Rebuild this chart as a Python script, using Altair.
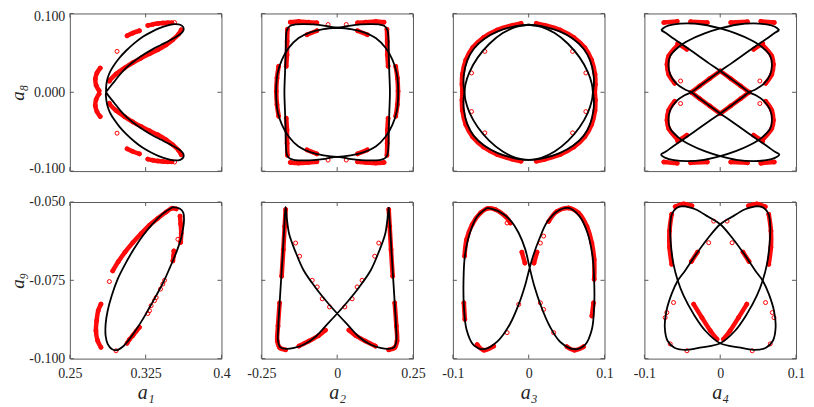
import altair as alt
import pandas as pd

# ---------------- axes: ticks, labels, titles ----------------
X1_TICKS = [0.25, 0.325, 0.4]
X1_LABELS = ["0.25", "0.325", "0.4"]
X2_TICKS = [-0.25, 0.0, 0.25]
X2_LABELS = ["-0.25", "0", "0.25"]
X3_TICKS = [-0.1, 0.0, 0.1]
X3_LABELS = ["-0.1", "0", "0.1"]
X4_TICKS = [-0.1, 0.0, 0.1]
X4_LABELS = ["-0.1", "0", "0.1"]
Y8_TICKS = [-0.1, 0.0, 0.1]
Y8_LABELS = ["-0.100", "0.000", "0.100"]
Y9_TICKS = [-0.1, -0.075, -0.05]
Y9_LABELS = ["-0.100", "-0.075", "-0.050"]
X_TITLES = ["a₁", "a₂", "a₃", "a₄"]
Y_TITLES = ["a₈", "a₉"]

# ---------------- a1 vs a8 ----------------
A1_A8_BLACK = [
    (0.2858, 0.0000), (0.2861, 0.0097), (0.2874, 0.0181), (0.2900, 0.0266), (0.2940, 0.0350),
    (0.2990, 0.0435), (0.3056, 0.0527), (0.3139, 0.0624), (0.3222, 0.0705), (0.3304, 0.0764),
    (0.3387, 0.0814), (0.3470, 0.0848), (0.3536, 0.0865), (0.3592, 0.0857), (0.3622, 0.0827),
    (0.3625, 0.0789), (0.3602, 0.0747), (0.3553, 0.0705), (0.3486, 0.0658), (0.3404, 0.0603),
    (0.3321, 0.0548), (0.3238, 0.0485), (0.3155, 0.0413), (0.3073, 0.0329), (0.3000, 0.0232),
    (0.2934, 0.0126), (0.2881, 0.0042), (0.2858, 0.0000),
    (0.2861, -0.0097), (0.2874, -0.0181), (0.2900, -0.0266), (0.2940, -0.0350),
    (0.2990, -0.0435), (0.3056, -0.0527), (0.3139, -0.0624), (0.3222, -0.0705), (0.3304, -0.0764),
    (0.3387, -0.0814), (0.3470, -0.0848), (0.3536, -0.0865), (0.3592, -0.0857), (0.3622, -0.0827),
    (0.3625, -0.0789), (0.3602, -0.0747), (0.3553, -0.0705), (0.3486, -0.0658), (0.3404, -0.0603),
    (0.3321, -0.0548), (0.3238, -0.0485), (0.3155, -0.0413), (0.3073, -0.0329), (0.3000, -0.0232),
    (0.2934, -0.0126), (0.2881, -0.0042), (0.2858, 0.0000),
]
A1_A8_RED_BANDS = [
    [(0.2891, 0.0148), (0.2957, 0.0232), (0.3040, 0.0308), (0.3122, 0.0375), (0.3205, 0.0434),
     (0.3288, 0.0489), (0.3371, 0.0540), (0.3453, 0.0603), (0.3519, 0.0667), (0.3576, 0.0738), (0.3602, 0.0793)],
    [(0.2891, -0.0148), (0.2957, -0.0232), (0.3040, -0.0308), (0.3122, -0.0375), (0.3205, -0.0434),
     (0.3288, -0.0489), (0.3371, -0.0540), (0.3453, -0.0603), (0.3519, -0.0667), (0.3576, -0.0738), (0.3602, -0.0793)],
    [(0.2801, 0.0308), (0.2768, 0.0245), (0.2752, 0.0170), (0.2760, 0.0090), (0.2790, 0.0020)],
    [(0.2790, -0.0020), (0.2760, -0.0090), (0.2752, -0.0170), (0.2768, -0.0245), (0.2801, -0.0308)],
    [(0.3271, 0.0848), (0.3321, 0.0862), (0.3371, 0.0872), (0.3420, 0.0878), (0.3470, 0.0882), (0.3510, 0.0882)],
    [(0.3271, -0.0848), (0.3321, -0.0862), (0.3371, -0.0872), (0.3420, -0.0878), (0.3470, -0.0882), (0.3510, -0.0882)],
    [(0.3066, 0.0717), (0.3122, 0.0751), (0.3189, 0.0781)],
    [(0.3066, -0.0717), (0.3122, -0.0751), (0.3189, -0.0781)],
]
A1_A8_RED_DOTS = [(0.2967, 0.0519), (0.2967, -0.0519), (0.2891, 0.0139), (0.2891, -0.0139),
                  (0.3536, 0.0885), (0.3536, -0.0885)]

# ---------------- a1 vs a9 ----------------
A1_A9_BLACK = [
    (0.3520, -0.0516), (0.3586, -0.0521), (0.3622, -0.0534), (0.3629, -0.0561), (0.3619, -0.0587),
    (0.3602, -0.0614), (0.3559, -0.0656), (0.3493, -0.0707), (0.3427, -0.0755), (0.3354, -0.0799),
    (0.3288, -0.0837), (0.3222, -0.0874), (0.3155, -0.0908), (0.3089, -0.0938), (0.3023, -0.0962),
    (0.2967, -0.0973), (0.2914, -0.0969), (0.2874, -0.0953), (0.2854, -0.0927), (0.2854, -0.0890),
    (0.2874, -0.0847), (0.2914, -0.0799), (0.2973, -0.0746), (0.3046, -0.0699), (0.3132, -0.0651),
    (0.3222, -0.0608), (0.3321, -0.0569), (0.3420, -0.0537), (0.3520, -0.0516),
]
A1_A9_RED_BANDS = [
    [(0.2924, -0.0720), (0.2980, -0.0690), (0.3046, -0.0660), (0.3122, -0.0630), (0.3205, -0.0601),
     (0.3288, -0.0574), (0.3371, -0.0552), (0.3453, -0.0532), (0.3510, -0.0520), (0.3553, -0.0522)],
    [(0.3590, -0.0545), (0.3596, -0.0570), (0.3602, -0.0600), (0.3596, -0.0629)],
    [(0.3529, -0.0656), (0.3526, -0.0672), (0.3519, -0.0688)],
    [(0.2808, -0.0826), (0.2781, -0.0847), (0.2765, -0.0879), (0.2758, -0.0911), (0.2775, -0.0943), (0.2808, -0.0964)],
    [(0.3189, -0.0900), (0.3155, -0.0913), (0.3122, -0.0927), (0.3089, -0.0939), (0.3066, -0.0951)],
]
A1_A9_RED_DOTS = [(0.2891, -0.0754), (0.3437, -0.0750), (0.3420, -0.0762), (0.3397, -0.0778),
                  (0.3354, -0.0805), (0.3337, -0.0815), (0.3304, -0.0831), (0.3288, -0.0847),
                  (0.3271, -0.0856), (0.2957, -0.0975), (0.3569, -0.0619)]

# ---------------- a2 vs a8 ----------------
A2_A8_RECT = [
    (-0.1689, 0.0688), (-0.1656, 0.0793), (-0.1546, 0.0844), (-0.1382, 0.0861), (-0.1107, 0.0865),
    (-0.0779, 0.0861), (-0.0395, 0.0844), (0.0000, 0.0819), (0.0395, 0.0844), (0.0779, 0.0861),
    (0.1107, 0.0865), (0.1382, 0.0861), (0.1546, 0.0844), (0.1656, 0.0793), (0.1689, 0.0688),
    (0.1700, 0.0477), (0.1720, 0.0245), (0.1740, 0.0000), (0.1720, -0.0245), (0.1700, -0.0477),
    (0.1689, -0.0688), (0.1656, -0.0793), (0.1546, -0.0844), (0.1382, -0.0861), (0.1107, -0.0865),
    (0.0779, -0.0861), (0.0395, -0.0844), (0.0000, -0.0819), (-0.0395, -0.0844), (-0.0779, -0.0861),
    (-0.1107, -0.0865), (-0.1382, -0.0861), (-0.1546, -0.0844), (-0.1656, -0.0793), (-0.1689, -0.0688),
    (-0.1700, -0.0477), (-0.1720, -0.0245), (-0.1740, 0.0000), (-0.1720, 0.0245), (-0.1700, 0.0477),
    (-0.1689, 0.0688),
]
A2_A8_OVAL = [
    (0.0000, 0.0819), (-0.0450, 0.0802), (-0.0888, 0.0760), (-0.1272, 0.0688), (-0.1601, 0.0561),
    (-0.1820, 0.0414), (-0.1963, 0.0245), (-0.2007, 0.0097), (-0.2007, -0.0097), (-0.1963, -0.0245),
    (-0.1820, -0.0414), (-0.1601, -0.0561), (-0.1272, -0.0688), (-0.0888, -0.0760), (-0.0450, -0.0802),
    (0.0000, -0.0819), (0.0450, -0.0802), (0.0888, -0.0760), (0.1272, -0.0688), (0.1601, -0.0561),
    (0.1820, -0.0414), (0.1963, -0.0245), (0.2007, -0.0097), (0.2007, 0.0097), (0.1963, 0.0245),
    (0.1820, 0.0414), (0.1601, 0.0561), (0.1272, 0.0688), (0.0888, 0.0760), (0.0450, 0.0802),
    (0.0000, 0.0819),
]
A2_A8_RED_BANDS = [
    [(-0.1640, 0.0800), (-0.1650, 0.0646), (-0.1655, 0.0477), (-0.1680, 0.0329)],
    [(-0.1930, 0.0329), (-0.1985, 0.0181), (-0.2007, 0.0013), (-0.1985, -0.0156), (-0.1930, -0.0304)],
    [(-0.1680, -0.0329), (-0.1655, -0.0477), (-0.1650, -0.0646), (-0.1640, -0.0800)],
    [(0.1640, 0.0800), (0.1650, 0.0646), (0.1655, 0.0477), (0.1680, 0.0329)],
    [(0.1930, 0.0329), (0.1985, 0.0181), (0.2007, 0.0013), (0.1985, -0.0156), (0.1930, -0.0304)],
    [(0.1680, -0.0329), (0.1655, -0.0477), (0.1650, -0.0646), (0.1640, -0.0800)],
    [(-0.1546, 0.0890), (-0.1272, 0.0899), (-0.0943, 0.0890), (-0.0669, 0.0882)],
    [(0.0669, 0.0882), (0.0943, 0.0890), (0.1272, 0.0899), (0.1546, 0.0890)],
    [(-0.1546, -0.0890), (-0.1272, -0.0899), (-0.0943, -0.0890), (-0.0669, -0.0882)],
    [(0.0669, -0.0882), (0.0943, -0.0890), (0.1272, -0.0899), (0.1546, -0.0890)],
    [(-0.0998, 0.0730), (-0.0669, 0.0781)],
    [(0.0669, 0.0781), (0.0998, 0.0730)],
    [(-0.0998, -0.0730), (-0.0669, -0.0781)],
    [(0.0669, -0.0781), (0.0998, -0.0730)],
]
A2_A8_RED_DOTS = [(-0.0300, 0.0860), (0.0300, 0.0860), (-0.0300, -0.0860), (0.0300, -0.0860)]

# ---------------- a2 vs a9 ----------------
A2_A9_BLACK = [
    (0.1700, -0.0516), (0.1743, -0.0578), (0.1787, -0.0652), (0.1842, -0.0737), (0.1897, -0.0822),
    (0.1941, -0.0896), (0.1952, -0.0944), (0.1886, -0.0963), (0.1700, -0.0969), (0.1425, -0.0966),
    (0.1097, -0.0955), (0.0713, -0.0930), (0.0384, -0.0896), (0.0000, -0.0856), (-0.0362, -0.0816),
    (-0.0724, -0.0772), (-0.1107, -0.0718), (-0.1382, -0.0657), (-0.1579, -0.0604), (-0.1656, -0.0556),
    (-0.1700, -0.0516), (-0.1743, -0.0578), (-0.1787, -0.0652), (-0.1842, -0.0737), (-0.1897, -0.0822),
    (-0.1941, -0.0896), (-0.1952, -0.0944), (-0.1886, -0.0963), (-0.1700, -0.0969), (-0.1425, -0.0966),
    (-0.1097, -0.0955), (-0.0713, -0.0930), (-0.0384, -0.0896), (0.0000, -0.0856), (0.0362, -0.0816),
    (0.0724, -0.0772), (0.1107, -0.0718), (0.1382, -0.0657), (0.1579, -0.0604), (0.1656, -0.0556),
    (0.1700, -0.0516),
]
A2_A9_RED_BANDS = [
    [(-0.1700, -0.0524), (-0.1732, -0.0578), (-0.1776, -0.0652), (-0.1831, -0.0737)],
    [(-0.1897, -0.0822), (-0.1952, -0.0896), (-0.1974, -0.0944), (-0.1897, -0.0965), (-0.1700, -0.0972)],
    [(0.1700, -0.0524), (0.1732, -0.0578), (0.1776, -0.0652), (0.1831, -0.0737)],
    [(0.1897, -0.0822), (0.1952, -0.0896), (0.1974, -0.0944), (0.1897, -0.0965), (0.1700, -0.0972)],
    [(-0.1261, -0.0960), (-0.0932, -0.0944), (-0.0603, -0.0926), (-0.0384, -0.0909)],
    [(0.1261, -0.0960), (0.0932, -0.0944), (0.0603, -0.0926), (0.0384, -0.0909)],
]
A2_A9_RED_DOTS = [(-0.1371, -0.0631), (-0.1239, -0.0673), (-0.0822, -0.0750), (-0.0658, -0.0771),
                  (-0.0493, -0.0809), (-0.0252, -0.0835), (0.1371, -0.0631), (0.1239, -0.0673),
                  (0.0822, -0.0750), (0.0658, -0.0771), (0.0493, -0.0809), (0.0252, -0.0835)]

# ---------------- a3 vs a8 ----------------
A3_A8_LOOP1 = [
    (0.0000, 0.0857), (0.0211, 0.0831), (0.0408, 0.0772), (0.0583, 0.0679), (0.0724, 0.0553),
    (0.0811, 0.0401), (0.0855, 0.0224), (0.0860, 0.0097), (0.0847, 0.0000),
    (0.0833, -0.0105), (0.0781, -0.0257), (0.0671, -0.0443), (0.0518, -0.0616), (0.0342, -0.0751),
    (0.0167, -0.0831), (0.0000, -0.0857),
    (-0.0211, -0.0831), (-0.0408, -0.0772), (-0.0583, -0.0679), (-0.0724, -0.0553), (-0.0811, -0.0401),
    (-0.0855, -0.0224), (-0.0860, -0.0097), (-0.0847, 0.0000),
    (-0.0833, 0.0105), (-0.0781, 0.0257), (-0.0671, 0.0443), (-0.0518, 0.0616), (-0.0342, 0.0751),
    (-0.0167, 0.0831), (0.0000, 0.0857),
]
A3_A8_LOOP2 = [
    (0.0000, 0.0857), (0.0167, 0.0831), (0.0342, 0.0751), (0.0518, 0.0616), (0.0671, 0.0443),
    (0.0781, 0.0257), (0.0833, 0.0105), (0.0847, 0.0000),
    (0.0860, -0.0097), (0.0855, -0.0224), (0.0811, -0.0401), (0.0724, -0.0553), (0.0583, -0.0679),
    (0.0408, -0.0772), (0.0211, -0.0831), (0.0000, -0.0857),
    (-0.0167, -0.0831), (-0.0342, -0.0751), (-0.0518, -0.0616), (-0.0671, -0.0443), (-0.0781, -0.0257),
    (-0.0833, -0.0105), (-0.0847, 0.0000),
    (-0.0860, 0.0097), (-0.0855, 0.0224), (-0.0811, 0.0401), (-0.0724, 0.0553), (-0.0583, 0.0679),
    (-0.0408, 0.0772), (-0.0211, 0.0831), (0.0000, 0.0857),
]
A3_A8_RED_BANDS = [
    [(0.0100, 0.0875), (0.0215, 0.0850), (0.0418, 0.0790), (0.0597, 0.0695), (0.0740, 0.0566),
     (0.0830, 0.0410), (0.0875, 0.0229), (0.0880, 0.0099), (0.0870, -0.0020)],
    [(-0.0100, 0.0875), (-0.0215, 0.0850), (-0.0418, 0.0790), (-0.0597, 0.0695), (-0.0740, 0.0566),
     (-0.0830, 0.0410), (-0.0875, 0.0229), (-0.0880, 0.0099), (-0.0870, -0.0020)],
    [(0.0100, -0.0875), (0.0215, -0.0850), (0.0418, -0.0790), (0.0597, -0.0695), (0.0740, -0.0566),
     (0.0830, -0.0410), (0.0875, -0.0229), (0.0880, -0.0099), (0.0870, 0.0020)],
    [(-0.0100, -0.0875), (-0.0215, -0.0850), (-0.0418, -0.0790), (-0.0597, -0.0695), (-0.0740, -0.0566),
     (-0.0830, -0.0410), (-0.0875, -0.0229), (-0.0880, -0.0099), (-0.0870, 0.0020)],
]
A3_A8_RED_DOTS = [(-0.0579, 0.0519), (0.0579, 0.0519), (-0.0579, -0.0515), (0.0579, -0.0515),
                  (-0.0754, 0.0245), (0.0754, 0.0245), (-0.0754, -0.0245), (0.0754, -0.0245)]

# ---------------- a3 vs a9 ----------------
A3_A9_BLACK = [
    (-0.0548, -0.0519), (-0.0395, -0.0530), (-0.0250, -0.0556), (-0.0132, -0.0599), (-0.0044, -0.0652),
    (0.0013, -0.0710), (0.0075, -0.0769), (0.0162, -0.0832), (0.0276, -0.0896), (0.0417, -0.0947),
    (0.0601, -0.0970), (0.0746, -0.0955), (0.0833, -0.0907), (0.0864, -0.0832), (0.0864, -0.0753),
    (0.0842, -0.0673), (0.0776, -0.0599), (0.0671, -0.0546), (0.0526, -0.0519), (0.0373, -0.0530),
    (0.0241, -0.0565), (0.0145, -0.0615), (0.0057, -0.0673), (0.0013, -0.0710), (-0.0044, -0.0763),
    (-0.0132, -0.0827), (-0.0250, -0.0891), (-0.0408, -0.0944), (-0.0592, -0.0970), (-0.0732, -0.0955),
    (-0.0820, -0.0907), (-0.0855, -0.0832), (-0.0860, -0.0753), (-0.0842, -0.0673), (-0.0776, -0.0599),
    (-0.0680, -0.0546), (-0.0548, -0.0519),
]
A3_A9_RED_BANDS = [
    [(-0.0846, -0.0673), (-0.0820, -0.0620), (-0.0746, -0.0572), (-0.0636, -0.0535), (-0.0548, -0.0521),
     (-0.0439, -0.0524), (-0.0307, -0.0546), (-0.0241, -0.0567)],
    [(-0.0855, -0.0822), (-0.0842, -0.0875)],
    [(-0.0680, -0.0955), (-0.0592, -0.0973), (-0.0461, -0.0960)],
    [(0.0263, -0.0562), (0.0373, -0.0530), (0.0526, -0.0519), (0.0658, -0.0535), (0.0768, -0.0578),
     (0.0833, -0.0631), (0.0864, -0.0684), (0.0864, -0.0747)],
    [(0.0855, -0.0822), (0.0833, -0.0864)],
    [(0.0504, -0.0962), (0.0601, -0.0973), (0.0724, -0.0962)],
    [(-0.0090, -0.0660), (-0.0050, -0.0695)],
    [(0.0110, -0.0660), (0.0070, -0.0695)],
]
A3_A9_RED_DOTS = [(-0.0285, -0.0567), (0.0197, -0.0609), (0.0154, -0.0631), (-0.0132, -0.0827),
                  (0.0154, -0.0822), (0.0197, -0.0843), (-0.0285, -0.0917), (0.0329, -0.0917)]

# ---------------- a4 vs a8 ----------------
A4_A8_LOOP1 = [
    (-0.0779, 0.0789), (-0.0722, 0.0832), (-0.0611, 0.0861), (-0.0435, 0.0874), (-0.0214, 0.0857),
    (0.0000, 0.0810), (0.0205, 0.0747), (0.0404, 0.0663), (0.0545, 0.0578), (0.0660, 0.0460),
    (0.0682, 0.0354), (0.0660, 0.0228), (0.0581, 0.0114), (0.0470, 0.0038), (0.0382, 0.0000),
    (0.0271, -0.0080), (0.0139, -0.0173), (0.0000, -0.0270), (-0.0148, -0.0367), (-0.0302, -0.0473),
    (-0.0457, -0.0578), (-0.0611, -0.0679), (-0.0722, -0.0755), (-0.0779, -0.0789), (-0.0722, -0.0832),
    (-0.0611, -0.0861), (-0.0435, -0.0874), (-0.0214, -0.0857), (0.0000, -0.0810), (0.0205, -0.0747),
    (0.0404, -0.0663), (0.0545, -0.0578), (0.0660, -0.0460), (0.0682, -0.0354), (0.0660, -0.0228),
    (0.0581, -0.0114), (0.0470, -0.0038), (0.0382, 0.0000), (0.0271, 0.0080), (0.0139, 0.0173),
    (0.0000, 0.0270), (-0.0148, 0.0367), (-0.0302, 0.0473), (-0.0457, 0.0578), (-0.0611, 0.0679),
    (-0.0722, 0.0755), (-0.0779, 0.0789),
]
A4_A8_LOOP2 = [
    (0.0779, 0.0789), (0.0722, 0.0832), (0.0611, 0.0861), (0.0435, 0.0874), (0.0214, 0.0857),
    (0.0000, 0.0810), (-0.0205, 0.0747), (-0.0404, 0.0663), (-0.0545, 0.0578), (-0.0660, 0.0460),
    (-0.0682, 0.0354), (-0.0660, 0.0228), (-0.0581, 0.0114), (-0.0470, 0.0038), (-0.0382, 0.0000),
    (-0.0271, -0.0080), (-0.0139, -0.0173), (0.0000, -0.0270), (0.0148, -0.0367), (0.0302, -0.0473),
    (0.0457, -0.0578), (0.0611, -0.0679), (0.0722, -0.0755), (0.0779, -0.0789), (0.0722, -0.0832),
    (0.0611, -0.0861), (0.0435, -0.0874), (0.0214, -0.0857), (0.0000, -0.0810), (-0.0205, -0.0747),
    (-0.0404, -0.0663), (-0.0545, -0.0578), (-0.0660, -0.0460), (-0.0682, -0.0354), (-0.0660, -0.0228),
    (-0.0581, -0.0114), (-0.0470, -0.0038), (-0.0382, 0.0000), (-0.0271, 0.0080), (-0.0139, 0.0173),
    (0.0000, 0.0270), (0.0148, 0.0367), (0.0302, 0.0473), (0.0457, 0.0578), (0.0611, 0.0679),
    (0.0722, 0.0755), (0.0779, 0.0789),
]
A4_A8_RED_BANDS = [
    [(-0.0560, 0.0600), (-0.0680, 0.0460), (-0.0702, 0.0354), (-0.0680, 0.0228), (-0.0600, 0.0114)],
    [(-0.0600, -0.0114), (-0.0680, -0.0228), (-0.0702, -0.0354), (-0.0680, -0.0460), (-0.0560, -0.0600)],
    [(0.0560, 0.0600), (0.0680, 0.0460), (0.0702, 0.0354), (0.0680, 0.0228), (0.0600, 0.0114)],
    [(0.0600, -0.0114), (0.0680, -0.0228), (0.0702, -0.0354), (0.0680, -0.0460), (0.0560, -0.0600)],
    [(-0.0382, 0.0000), (-0.0271, 0.0080), (-0.0139, 0.0173), (0.0000, 0.0270)],
    [(0.0000, 0.0270), (0.0139, 0.0173), (0.0271, 0.0080), (0.0382, 0.0000)],
    [(-0.0382, 0.0000), (-0.0271, -0.0080), (-0.0139, -0.0173), (0.0000, -0.0270)],
    [(0.0000, -0.0270), (0.0139, -0.0173), (0.0271, -0.0080), (0.0382, 0.0000)],
    [(-0.0560, 0.0620), (-0.0440, 0.0545)],
    [(0.0560, 0.0620), (0.0440, 0.0545)],
    [(-0.0560, -0.0620), (-0.0440, -0.0545)],
    [(0.0560, -0.0620), (0.0440, -0.0545)],
    [(-0.0744, 0.0885), (-0.0567, 0.0900)],
    [(-0.0391, 0.0895), (-0.0170, 0.0885)],
    [(0.0139, 0.0885), (0.0360, 0.0895)],
    [(0.0536, 0.0900), (0.0713, 0.0885)],
    [(-0.0744, -0.0885), (-0.0567, -0.0900)],
    [(-0.0391, -0.0895), (-0.0170, -0.0885)],
    [(0.0139, -0.0885), (0.0360, -0.0895)],
    [(0.0536, -0.0900), (0.0713, -0.0885)],
]
A4_A8_RED_DOTS = [(-0.0523, 0.0143), (0.0523, 0.0143), (-0.0523, -0.0143), (0.0523, -0.0143)]

# ---------------- a4 vs a9 ----------------
A4_A9_LOOP1 = [
    (-0.0483, -0.0513), (-0.0329, -0.0523), (-0.0152, -0.0548), (0.0000, -0.0571), (0.0157, -0.0614),
    (0.0333, -0.0672), (0.0466, -0.0720), (0.0563, -0.0752), (0.0642, -0.0794), (0.0709, -0.0847),
    (0.0731, -0.0900), (0.0695, -0.0943), (0.0598, -0.0966), (0.0444, -0.0972), (0.0245, -0.0964),
    (0.0000, -0.0951), (-0.0196, -0.0911), (-0.0351, -0.0858), (-0.0483, -0.0799), (-0.0558, -0.0752),
    (-0.0616, -0.0699), (-0.0651, -0.0635), (-0.0660, -0.0582), (-0.0638, -0.0539), (-0.0572, -0.0518),
    (-0.0483, -0.0513),
]
A4_A9_LOOP2 = [
    (0.0483, -0.0513), (0.0329, -0.0523), (0.0152, -0.0548), (0.0000, -0.0571), (-0.0157, -0.0614),
    (-0.0333, -0.0672), (-0.0466, -0.0720), (-0.0563, -0.0752), (-0.0642, -0.0794), (-0.0709, -0.0847),
    (-0.0731, -0.0900), (-0.0695, -0.0943), (-0.0598, -0.0966), (-0.0444, -0.0972), (-0.0245, -0.0964),
    (0.0000, -0.0951), (0.0196, -0.0911), (0.0351, -0.0858), (0.0483, -0.0799), (0.0558, -0.0752),
    (0.0616, -0.0699), (0.0651, -0.0635), (0.0660, -0.0582), (0.0638, -0.0539), (0.0572, -0.0518),
    (0.0483, -0.0513),
]
A4_A9_RED_BANDS = [
    [(-0.0640, -0.0539), (-0.0669, -0.0592), (-0.0669, -0.0645), (-0.0640, -0.0699)],
    [(-0.0594, -0.0515), (-0.0483, -0.0506), (-0.0373, -0.0512)],
    [(0.0640, -0.0539), (0.0669, -0.0592), (0.0669, -0.0645), (0.0640, -0.0699)],
    [(0.0594, -0.0515), (0.0483, -0.0506), (0.0373, -0.0512)],
    [(-0.0351, -0.0826), (-0.0241, -0.0869), (-0.0130, -0.0911), (-0.0042, -0.0938)],
    [(0.0351, -0.0826), (0.0241, -0.0869), (0.0130, -0.0911), (0.0042, -0.0938)],
    [(-0.0300, -0.0660), (-0.0380, -0.0690)],
    [(0.0300, -0.0660), (0.0380, -0.0690)],
]
A4_A9_RED_DOTS = [(-0.0152, -0.0630), (0.0157, -0.0630), (-0.0086, -0.0561), (0.0090, -0.0561),
                  (-0.0704, -0.0853), (-0.0726, -0.0869), (0.0687, -0.0853), (0.0709, -0.0869),
                  (-0.0439, -0.0975), (0.0422, -0.0975), (-0.0616, -0.0821), (0.0598, -0.0821),
                  (-0.0660, -0.0953), (0.0660, -0.0953)]

# ---------------- layout / styling ----------------
X_DOMAINS = [(0.25, 0.4), (-0.25, 0.25), (-0.1, 0.1), (-0.1, 0.1)]
Y_DOMAINS = [(-0.1, 0.1), (-0.1, -0.05)]
X_TICK_SETS = [(X1_TICKS, X1_LABELS), (X2_TICKS, X2_LABELS), (X3_TICKS, X3_LABELS), (X4_TICKS, X4_LABELS)]
Y_TICK_SETS = [(Y8_TICKS, Y8_LABELS), (Y9_TICKS, Y9_LABELS)]
W = 152
ROW_H = [158, 157]
RED = "#ff0000"
FRAME = "#5a5a5a"
TEXT = "#262626"
FONT = "Liberation Serif"

PANELS = [
    (0, 0, [A1_A8_BLACK], A1_A8_RED_BANDS, A1_A8_RED_DOTS),
    (0, 1, [A2_A8_RECT, A2_A8_OVAL], A2_A8_RED_BANDS, A2_A8_RED_DOTS),
    (0, 2, [A3_A8_LOOP1, A3_A8_LOOP2], A3_A8_RED_BANDS, A3_A8_RED_DOTS),
    (0, 3, [A4_A8_LOOP1, A4_A8_LOOP2], A4_A8_RED_BANDS, A4_A8_RED_DOTS),
    (1, 0, [A1_A9_BLACK], A1_A9_RED_BANDS, A1_A9_RED_DOTS),
    (1, 1, [A2_A9_BLACK], A2_A9_RED_BANDS, A2_A9_RED_DOTS),
    (1, 2, [A3_A9_BLACK], A3_A9_RED_BANDS, A3_A9_RED_DOTS),
    (1, 3, [A4_A9_LOOP1, A4_A9_LOOP2], A4_A9_RED_BANDS, A4_A9_RED_DOTS),
]


def paths_df(paths):
    rows = []
    for s, pts in enumerate(paths):
        for i, (x, y) in enumerate(pts):
            rows.append({"x": x, "y": y, "seg": s, "i": i})
    return pd.DataFrame(rows)


def label_expr(vals, labs):
    parts = []
    for k in range(len(vals) - 1):
        mid = (vals[k] + vals[k + 1]) / 2.0
        parts.append(f"datum.value < {mid!r} ? '{labs[k]}' : ")
    return "".join(parts) + f"'{labs[-1]}'"


def make_panel(row, col, black, bands, dots):
    H = ROW_H[row]
    xt, xl = X_TICK_SETS[col]
    yt, yl = Y_TICK_SETS[row]
    xscale = alt.Scale(domain=list(X_DOMAINS[col]), nice=False, zero=False)
    yscale = alt.Scale(domain=list(Y_DOMAINS[row]), nice=False, zero=False)
    if row == 1:
        xaxis = alt.Axis(values=xt, labelExpr=label_expr(xt, xl), title=X_TITLES[col])
    else:
        xaxis = None
    if col == 0:
        if row == 0:
            yaxis = alt.Axis(values=yt, labelExpr=label_expr(yt, yl), title=Y_TITLES[row],
                             labelFlush=True, labelFlushOffset=4)
        else:
            yaxis = alt.Axis(values=yt, labelExpr=label_expr(yt, yl), title=Y_TITLES[row])
    else:
        yaxis = None
    X = alt.X("x:Q", scale=xscale, axis=xaxis)
    Y = alt.Y("y:Q", scale=yscale, axis=yaxis)

    band_df = paths_df(bands)
    dot_df = pd.concat([band_df[["x", "y"]], pd.DataFrame(dots, columns=["x", "y"])], ignore_index=True)
    black_df = paths_df(black)

    red_lines = alt.Chart(band_df).mark_line(
        color=RED, strokeWidth=4.5, strokeCap="round", strokeJoin="round",
        interpolate="catmull-rom", opacity=0.95
    ).encode(x=X, y=Y, detail="seg:N", order="i:Q")
    red_pts = alt.Chart(dot_df).mark_point(
        shape="circle", filled=False, color=RED, size=16, strokeWidth=1, opacity=1
    ).encode(x=X, y=Y)
    black_lines = alt.Chart(black_df).mark_line(
        color="black", strokeWidth=1.8, interpolate="catmull-rom"
    ).encode(x=X, y=Y, detail="seg:N", order="i:Q")

    xt_df = pd.DataFrame({"x": xt})
    yt_df = pd.DataFrame({"y": yt})
    tick_style = dict(color=FRAME, strokeWidth=1)
    xt_top = alt.Chart(xt_df).mark_rule(**tick_style).encode(x=X, y=alt.value(0), y2=alt.value(4))
    xt_bot = alt.Chart(xt_df).mark_rule(**tick_style).encode(x=X, y=alt.value(H - 4), y2=alt.value(H))
    yt_left = alt.Chart(yt_df).mark_rule(**tick_style).encode(y=Y, x=alt.value(0), x2=alt.value(4))
    yt_right = alt.Chart(yt_df).mark_rule(**tick_style).encode(y=Y, x=alt.value(W - 4), x2=alt.value(W))

    return alt.layer(red_lines, red_pts, black_lines, xt_top, xt_bot, yt_left, yt_right).properties(
        width=W, height=H
    )


panels = [make_panel(r, c, b, rb, rd) for (r, c, b, rb, rd) in PANELS]

chart = alt.concat(
    *panels, columns=4, spacing={"row": 31, "column": 40}, bounds="flush"
).properties(
    padding={"left": 0, "top": 0, "right": 0, "bottom": 0}
).configure_view(
    stroke=FRAME, strokeWidth=1
).configure_axis(
    labelFont=FONT, labelFontSize=14, labelColor=TEXT,
    labelFlush=False, labelOverlap=False,
    titleFont=FONT, titleFontSize=20, titleFontStyle="italic", titleFontWeight="normal",
    titleColor=TEXT, domain=False, ticks=False, grid=False
).configure_axisX(
    labelPadding=8, titlePadding=2
).configure_axisY(
    labelPadding=5, titlePadding=0, minExtent=42, maxExtent=42, titleFontSize=19
)

chart.save("out.html", embed_options={"renderer": "svg", "actions": False})
